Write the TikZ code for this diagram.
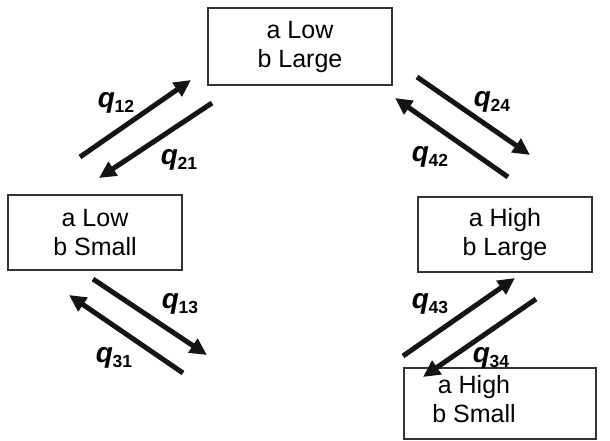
\documentclass[tikz,border=0pt]{standalone}
\usepackage{fontspec}
\setmainfont{Liberation Sans}
\usetikzlibrary{arrows.meta}
\newcommand{\ql}[1]{{\fontsize{28}{28}\selectfont\bfseries\itshape q}\kern-0.5pt\raisebox{-5pt}{\fontsize{17.5}{17.5}\selectfont\bfseries #1}}
\begin{document}
\begin{tikzpicture}[x=1pt,y=-1pt,
  box/.style={draw=black!80, line width=1.1pt, minimum width=174pt, minimum height=75pt, inner sep=0pt, align=center, font=\fontsize{25}{29}\selectfont},
  boxtext/.style={inner sep=0pt, align=center, font=\fontsize{25}{29}\selectfont},
  arr/.style={line width=5pt, draw=black!92, -{Triangle[length=17pt,width=16pt]}},
  lab/.style={inner sep=0pt}]
\useasboundingbox (0,0) rectangle (610,440);
\node[box, minimum width=184pt, minimum height=77pt] (top) at (300,46.5) {a Low\\b Large};
\node[box] (left) at (95,232.5) {a Low\\b Small};
\node[box] (right) at (505,234.5) {a High\\b Large};
\node[box, minimum width=192pt, minimum height=71pt] (bottom) at (500,403.5) {};
\node[boxtext] (bottomtext) at (474,399) {a High\\b Small};
% arrow end points
\coordinate (a12s) at (80,157);   \coordinate (a12e) at (191,80);
\coordinate (a21s) at (212,103);  \coordinate (a21e) at (99,178);
\coordinate (a24s) at (417,77);   \coordinate (a24e) at (530,155);
\coordinate (a42s) at (508,177);  \coordinate (a42e) at (395,98);
\coordinate (a13s) at (93,279);   \coordinate (a13e) at (207,355);
\coordinate (a31s) at (183,373);  \coordinate (a31e) at (69,295);
\coordinate (a43s) at (403,356);  \coordinate (a43e) at (515,278);
\coordinate (a34s) at (536,299);  \coordinate (a34e) at (423,377);
\draw[arr] (a12s) -- (a12e);
\draw[arr] (a21s) -- (a21e);
\draw[arr] (a24s) -- (a24e);
\draw[arr] (a42s) -- (a42e);
\draw[arr] (a13s) -- (a13e);
\draw[arr] (a31s) -- (a31e);
\draw[arr] (a43s) -- (a43e);
\draw[arr] (a34s) -- (a34e);
\node[lab] (l12) at (116,103) {\ql{12}};
\node[lab] (l21) at (179,160) {\ql{21}};
\node[lab] (l24) at (492,102) {\ql{24}};
\node[lab] (l42) at (430,157) {\ql{42}};
\node[lab] (l13) at (180,304) {\ql{13}};
\node[lab] (l31) at (114,358) {\ql{31}};
\node[lab] (l43) at (430,304) {\ql{43}};
\node[lab] (l34) at (491,358) {\ql{34}};
\end{tikzpicture}
\end{document}
